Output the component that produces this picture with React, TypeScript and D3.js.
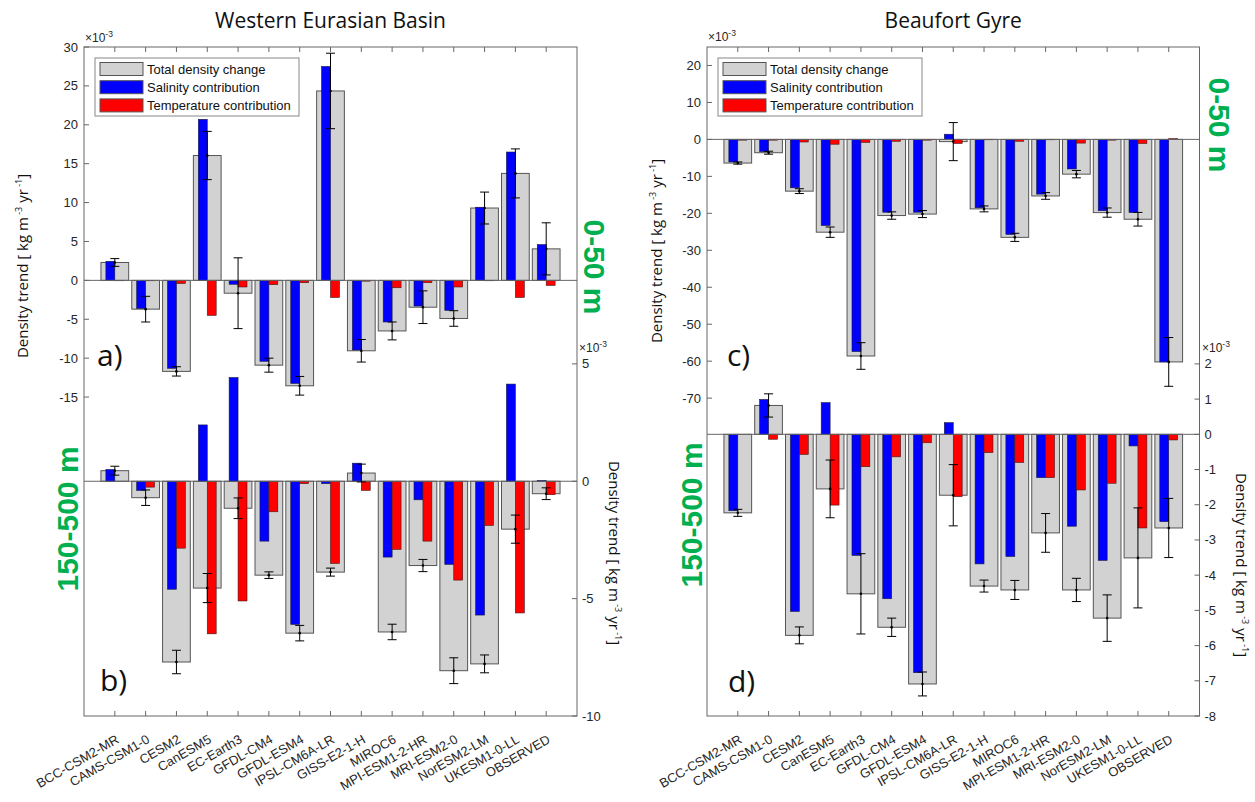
import React from "react";
import * as d3 from "d3";

// Model names along the x axis (shared by both basins)
const models = [
  "BCC-CSM2-MR", "CAMS-CSM1-0", "CESM2", "CanESM5", "EC-Earth3", "GFDL-CM4", "GFDL-ESM4",
  "IPSL-CM6A-LR", "GISS-E2-1-H", "MIROC6", "MPI-ESM1-2-HR", "MRI-ESM2-0", "NorESM2-LM",
  "UKESM1-0-LL", "OBSERVED",
];

// Western Eurasian Basin, 0-50 m (×10^-3 kg m^-3 yr^-1)
const webUpperTotal = [2.3, -3.7, -11.7, 16.05, -1.65, -10.9, -13.55, 24.35, -9.05, -6.5, -3.45, -4.9, 9.3, 13.75, 4.05];
const webUpperSal = [2.45, -3.6, -11.3, 20.7, -0.5, -10.4, -13.25, 27.5, -8.95, -5.35, -3.3, -3.85, 9.4, 16.5, 4.6];
const webUpperTemp = [-0.05, -0.05, -0.4, -4.5, -0.85, -0.55, -0.3, -2.2, -0.1, -0.95, -0.3, -0.85, -0.05, -2.2, -0.65];
const webUpperErr = [0.5, 1.65, 0.6, 3.1, 4.55, 0.9, 1.2, 4.85, 1.45, 1.15, 2.1, 1.0, 2.05, 3.15, 3.35];

// Western Eurasian Basin, 150-500 m
const webDeepTotal = [0.45, -0.7, -7.7, -4.55, -1.15, -4.0, -6.47, -3.87, 0.35, -6.42, -3.59, -8.07, -7.78, -2.04, -0.53];
const webDeepSal = [0.5, -0.39, -4.6, 2.4, 4.42, -2.55, -6.1, -0.1, 0.77, -3.23, -0.79, -3.54, -5.7, 4.14, 0.03];
const webDeepTemp = [0.0, -0.25, -2.85, -6.5, -5.1, -1.3, -0.1, -3.5, -0.39, -2.9, -2.55, -4.21, -1.88, -5.61, -0.57];
const webDeepErr = [0.19, 0.33, 0.5, 0.62, 0.44, 0.14, 0.33, 0.17, 0.38, 0.33, 0.26, 0.55, 0.38, 0.6, 0.25];

// Beaufort Gyre, 0-50 m
const bgUpperTotal = [-6.4, -3.6, -14.0, -25.1, -58.6, -20.6, -20.2, -0.6, -18.8, -26.5, -15.3, -9.4, -19.8, -21.6, -60.2];
const bgUpperSal = [-6.1, -3.3, -13.1, -23.3, -57.4, -19.7, -19.7, 1.4, -18.5, -25.7, -14.8, -8.0, -19.3, -19.8, -60.2];
const bgUpperTemp = [-0.2, -0.2, -0.7, -1.3, -0.8, -0.5, -0.2, -1.1, -0.1, -0.5, -0.1, -1.0, -0.2, -1.1, 0.2];
const bgUpperErr = [0.3, 0.4, 0.65, 1.4, 3.6, 1.0, 0.95, 5.15, 0.8, 1.1, 0.9, 1.0, 1.25, 1.85, 6.6];

// Beaufort Gyre, 150-500 m
const bgDeepTotal = [-2.23, 0.82, -5.71, -1.55, -4.53, -5.48, -7.09, -1.73, -4.31, -4.42, -2.8, -4.42, -5.22, -3.51, -2.66];
const bgDeepSal = [-2.17, 0.99, -5.03, 0.9, -3.44, -4.67, -6.77, 0.33, -3.68, -3.47, -1.23, -2.61, -3.58, -0.33, -2.48];
const bgDeepTemp = [0.0, -0.14, -0.57, -2.01, -0.92, -0.64, -0.24, -1.77, -0.52, -0.8, -1.23, -1.58, -1.39, -2.66, -0.16];
const bgDeepErr = [0.1, 0.33, 0.24, 0.82, 1.14, 0.26, 0.34, 0.87, 0.17, 0.27, 0.55, 0.33, 0.66, 1.42, 0.84];

const legendLabels = ["Total density change", "Salinity contribution", "Temperature contribution"];
const webUpperTicks = [30, 25, 20, 15, 10, 5, 0, -5, -10, -15];
const webDeepTicks = [5, 0, -5, -10];
const bgUpperTicks = [20, 10, 0, -10, -20, -30, -40, -50, -60, -70];
const bgDeepTicks = [2, 1, 0, -1, -2, -3, -4, -5, -6, -7, -8];

const W = 1255;
const H = 802;
const TOP = 47;
const BOTTOM = 716;

const GRAY = "#d2d2d2";
const BLUE = "#0000ff";
const RED = "#ff0000";
const AXIS = "#666666";
const TEXT = "#262626";
const GREEN = "#00b050";
const TICK_FONT = "'Liberation Sans', Arial, sans-serif";
const LABEL_FONT = "'Open Sans', 'DejaVu Sans', sans-serif";

type Scale = d3.ScaleLinear<number, number>;

function BarLayer(props: { x: Scale; y: Scale; total: number[]; sal: number[]; temp: number[]; err: number[] }) {
  const { x, y, total, sal, temp, err } = props;
  const s = x(1) - x(0);
  const y0 = y(0);
  const [xa, xb] = x.range();
  const cap = 4.5;
  return (
    <g>
      {total.map((v, i) => {
        const c = x(i + 1);
        return (
          <rect key={"t" + i} x={c - 0.45 * s} width={0.9 * s} y={Math.min(y(v), y0)}
            height={Math.abs(y(v) - y0)} fill={GRAY} stroke="#555" strokeWidth={1} />
        );
      })}
      {sal.map((v, i) => {
        const c = x(i + 1);
        return (
          <rect key={"s" + i} x={c - 0.29 * s} width={0.29 * s} y={Math.min(y(v), y0)}
            height={Math.abs(y(v) - y0)} fill={BLUE} stroke="#1a1a40" strokeWidth={0.6} />
        );
      })}
      {temp.map((v, i) => {
        const c = x(i + 1);
        return (
          <rect key={"r" + i} x={c} width={0.29 * s} y={Math.min(y(v), y0)}
            height={Math.abs(y(v) - y0)} fill={RED} stroke="#401a1a" strokeWidth={0.6} />
        );
      })}
      <line x1={xa} x2={xb} y1={y0} y2={y0} stroke={AXIS} strokeWidth={1} />
      {err.map((e, i) => {
        const c = x(i + 1);
        const hi = y(total[i] + e);
        const lo = y(total[i] - e);
        return (
          <g key={"e" + i} stroke="#000" strokeWidth={1}>
            <line x1={c} x2={c} y1={hi} y2={lo} />
            <line x1={c - cap} x2={c + cap} y1={hi} y2={hi} />
            <line x1={c - cap} x2={c + cap} y1={lo} y2={lo} />
            <circle cx={c} cy={y(total[i])} r={1.3} fill="#000" stroke="none" />
          </g>
        );
      })}
    </g>
  );
}

function YTicks(props: { y: Scale; x: number; ticks: number[]; side: "left" | "right" }) {
  const { y, x, ticks, side } = props;
  const dir = side === "left" ? 1 : -1;
  return (
    <g>
      {ticks.map((t) => (
        <g key={t}>
          <line x1={x} x2={x + dir * 5} y1={y(t)} y2={y(t)} stroke={AXIS} strokeWidth={1} />
          <text x={side === "left" ? x - 6 : x + 5} y={y(t)} dy="0.35em"
            textAnchor={side === "left" ? "end" : "start"} fontFamily={TICK_FONT} fontSize={13} fill={TEXT}>
            {t}
          </text>
        </g>
      ))}
    </g>
  );
}

function Multiplier(props: { x: number; y: number }) {
  return (
    <text x={props.x} y={props.y} fontFamily={TICK_FONT} fontSize={12} fill={TEXT}>
      ×10<tspan dy={-5} fontSize={8.5}>-3</tspan>
    </text>
  );
}

function UnitLabel(props: { x: number; y: number; rotate: number }) {
  return (
    <text transform={`translate(${props.x},${props.y}) rotate(${props.rotate})`} textAnchor="middle"
      fontFamily={LABEL_FONT} fontSize={15} fill="#111">
      Density trend [ kg m<tspan dy={-6} fontSize={9}> -3</tspan>
      <tspan dy={6}> yr</tspan><tspan dy={-6} fontSize={9}> -1</tspan><tspan dy={6}>]</tspan>
    </text>
  );
}

function Legend(props: { x: number; y: number }) {
  const colors = [GRAY, BLUE, RED];
  return (
    <g transform={`translate(${props.x},${props.y})`}>
      <rect x={0} y={0} width={204} height={58} fill="#fff" stroke="#888" strokeWidth={1} />
      {legendLabels.map((l, i) => (
        <g key={l} transform={`translate(0,${4.5 + i * 18.2})`}>
          <rect x={5} y={0} width={43} height={13} fill={colors[i]} stroke="#555" strokeWidth={1} />
          <text x={52} y={6.8} dy="0.35em" fontFamily={TICK_FONT} fontSize={13} fill="#111">{l}</text>
        </g>
      ))}
    </g>
  );
}

function Panel(props: {
  x0: number; x1: number; title: string;
  upper: { total: number[]; sal: number[]; temp: number[]; err: number[] };
  deep: { total: number[]; sal: number[]; temp: number[]; err: number[] };
  upperDomain: [number, number]; deepDomain: [number, number];
  upperTicks: number[]; deepTicks: number[];
}) {
  const { x0, x1, title, upper, deep } = props;
  const x = d3.scaleLinear().domain([0, models.length + 1]).range([x0, x1]);
  const yU = d3.scaleLinear().domain(props.upperDomain).range([BOTTOM, TOP]);
  const yD = d3.scaleLinear().domain(props.deepDomain).range([BOTTOM, TOP]);
  return (
    <g>
      <text x={(x0 + x1) / 2} y={28} textAnchor="middle" fontFamily={LABEL_FONT} fontSize={21} fill="#111">
        {title}
      </text>
      <BarLayer x={x} y={yD} {...deep} />
      <BarLayer x={x} y={yU} {...upper} />
      <rect x={x0} y={TOP} width={x1 - x0} height={BOTTOM - TOP} fill="none" stroke={AXIS} strokeWidth={1} />
      {models.map((m, i) => {
        const c = x(i + 1);
        return (
          <g key={m}>
            <line x1={c} x2={c} y1={TOP} y2={TOP + 5} stroke={AXIS} />
            <line x1={c} x2={c} y1={BOTTOM} y2={BOTTOM - 5} stroke={AXIS} />
            <text transform={`translate(${c + 5},${BOTTOM + 26}) rotate(-30)`} textAnchor="end"
              fontFamily={TICK_FONT} fontSize={13} fill={TEXT}>
              {m}
            </text>
          </g>
        );
      })}
      <YTicks y={yU} x={x0} ticks={props.upperTicks} side="left" />
      <YTicks y={yD} x={x1} ticks={props.deepTicks} side="right" />
    </g>
  );
}

export default function App() {
  return (
    <svg width={W} height={H} viewBox={`0 0 ${W} ${H}`}
      style={{ position: "absolute", left: 0, top: 0, background: "#fff" }}>
      <rect x={0} y={0} width={W} height={H} fill="#fff" />
      <Panel x0={84} x1={577} title="Western Eurasian Basin"
        upper={{ total: webUpperTotal, sal: webUpperSal, temp: webUpperTemp, err: webUpperErr }}
        deep={{ total: webDeepTotal, sal: webDeepSal, temp: webDeepTemp, err: webDeepErr }}
        upperDomain={[-56, 30]} deepDomain={[-10, 18.5]}
        upperTicks={webUpperTicks} deepTicks={webDeepTicks} />
      <Panel x0={707} x1={1199.5} title="Beaufort Gyre"
        upper={{ total: bgUpperTotal, sal: bgUpperSal, temp: bgUpperTemp, err: bgUpperErr }}
        deep={{ total: bgDeepTotal, sal: bgDeepSal, temp: bgDeepTemp, err: bgDeepErr }}
        upperDomain={[-156, 25]} deepDomain={[-8, 11]}
        upperTicks={bgUpperTicks} deepTicks={bgDeepTicks} />

      <Legend x={95} y={58} />
      <Legend x={718} y={58} />

      <Multiplier x={85} y={42} />
      <Multiplier x={579} y={352} />
      <Multiplier x={708} y={41} />
      <Multiplier x={1202} y={352} />

      <UnitLabel x={28} y={266} rotate={-90} />
      <UnitLabel x={662} y={251} rotate={-90} />
      <UnitLabel x={609} y={553} rotate={90} />
      <UnitLabel x={1236} y={565} rotate={90} />

      <text x={97} y={366} fontFamily={LABEL_FONT} fontSize={30} fill="#111">a)</text>
      <text x={100} y={691} fontFamily={LABEL_FONT} fontSize={30} fill="#111">b)</text>
      <text x={727} y={366} fontFamily={LABEL_FONT} fontSize={30} fill="#111">c)</text>
      <text x={728} y={692} fontFamily={LABEL_FONT} fontSize={30} fill="#111">d)</text>

      <g fontFamily={TICK_FONT} fontSize={30} fontWeight="bold" fill={GREEN} textAnchor="middle">
        <text transform="translate(584,267) rotate(90)">0-50 m</text>
        <text transform="translate(1209,125) rotate(90)">0-50 m</text>
        <text transform="translate(78,519) rotate(-90)">150-500 m</text>
        <text transform="translate(702,515) rotate(-90)">150-500 m</text>
      </g>
    </svg>
  );
}
